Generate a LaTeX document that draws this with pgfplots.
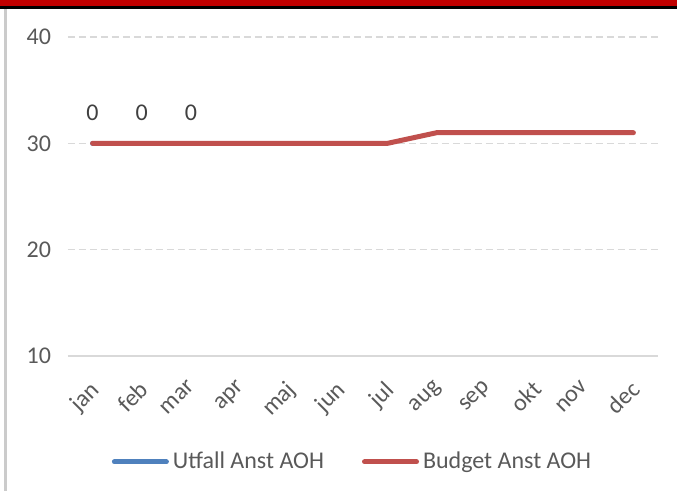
\documentclass[border=0pt]{standalone}
\usepackage{fontspec}
\setmainfont{Carlito}
\usepackage{pgfplots}
\pgfplotsset{compat=1.18}
\definecolor{ublue}{HTML}{4F81BD}
\definecolor{bred}{HTML}{C0504D}
\definecolor{gridc}{HTML}{D9D9D9}
\definecolor{txt}{HTML}{595959}
\definecolor{topred}{HTML}{C00000}
\begin{document}
\begin{tikzpicture}
\useasboundingbox (0,0) rectangle (338.5pt,245.5pt);
\fill[topred] (0,242.25pt) rectangle (338.5pt,245.5pt);
\fill[black] (0,241.2pt) rectangle (338.5pt,242.25pt);
\fill[gridc!85!gray] (2.2pt,0) rectangle (3.5pt,241.2pt);
\begin{axis}[
  at={(34pt,67.5pt)}, anchor=south west,
  scale only axis, width=295pt, height=159.5pt,
  xmin=-0.5, xmax=11.5, ymin=10, ymax=40,
  xtick={0,...,11},
  xticklabels={jan,feb,mar,apr,maj,jun,jul,aug,sep,okt,nov,dec},
  ytick={10,20,30,40},
  axis x line*=bottom, axis y line*=left,
  x axis line style={draw=gridc, line width=0.75pt, -},
  y axis line style={draw=none},
  major tick length=0pt,
  ymajorgrids,
  grid style={draw=gridc, line width=0.75pt, dash pattern=on 3.5pt off 2pt},
  font=\fontsize{12}{14}\selectfont,
  ticklabel style={text=txt, font=\fontsize{12}{14}\selectfont},
  /pgf/number format/assume math mode=true,
  yticklabel style={xshift=-5pt},
  xticklabel style={rotate=45, anchor=north east, xshift=-8.5pt, yshift=-5.7pt, inner sep=1pt},
  clip=false,
  legend style={at={(0.484,-0.332)}, anchor=center, draw=none, fill=none,
    legend columns=2, text=txt, font=\fontsize{12}{14}\selectfont,
    /tikz/every even column/.append style={column sep=17pt}},
  legend image code/.code={\draw[#1, line width=2.5pt, line cap=round] (0pt,0pt) -- (26pt,0pt);},
]
\addplot[ublue, line width=2.5pt, line cap=round, line join=round,
  nodes near coords={0},
  every node near coord/.append style={text=black!75, anchor=center, yshift=15.5pt,
    font=\fontsize{12}{14}\selectfont}]
  coordinates {(0,30) (1,30) (2,30)};
\addlegendentry{Utfall Anst AOH}
\addplot[bred, line width=2.5pt, line cap=round, line join=round]
  coordinates {(0,30) (1,30) (2,30) (3,30) (4,30) (5,30) (6,30) (7,31) (8,31) (9,31) (10,31) (11,31)};
\addlegendentry{Budget Anst AOH}
\end{axis}
\end{tikzpicture}
\end{document}
